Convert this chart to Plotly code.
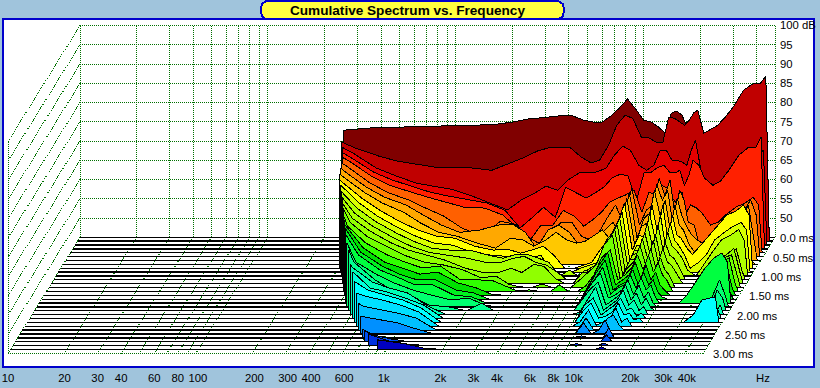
import numpy as np
import plotly.graph_objects as go

FREQ_HZ = [300,400,500,650,800,1000,1250,1600,2000,2400,2800,3200,3700,4200,4800,5400,6000,6700,7400,8200,
           9000,10000,11000,12000,13000,14000,15000,16000,17000,18000,19000,20000,21500,23000,25500,28000,
           31000,35000,39000,43000,46000,48000]

S00 = [73.1,73.6,73.6,73.8,73.9,74,74.1,74.3,74.9,75.7,76,76.2,76.6,76.5,75.4,74.9,74.9,76.5,78.5,80.9,78.5,75.4,74.9,73.6,72.1,77.2,77.8,76.7,73.4,70.8,68.9,67,67,67,67,67,67,67,67,67,45,45]
S01 = [69.2,67.1,65.8,65,64.2,64.2,64,63.4,65.3,66.8,68.4,69.2,69.3,69.2,66.8,65.3,66,69.9,75.1,77.7,76.9,72,71.8,70.7,70.5,77.2,76.9,75.9,75.1,76.4,78.3,79,73,73.8,75.1,77.2,80,84.2,85.8,86,87.9,45]
S02 = [68.9,65,63.1,61.1,60.3,59.5,58,55.9,54.1,56.9,58.5,60.3,59.2,61.9,63.7,63.7,64,65,68.3,70.7,69.6,65.7,64.4,65.7,69.6,69.6,67,67,66.5,65.7,69.6,72.2,63.9,61.3,59.2,60.3,62.9,66.5,68.3,68.3,69.6,45]
S03 = [68.8,64.9,62.9,61,59.7,58.7,57.9,56.9,55,50.4,53.2,55.8,53.2,61,59.5,58.2,59.5,61,63.4,64.4,63.9,57.6,64.9,64.9,66.2,66.7,64.9,64.7,65.4,61.5,64.1,68,66.7,63.4,61.5,62.6,65.4,69.3,71.2,71.2,74,45]
S04 = [69,64.9,62.5,60.7,59.4,58.1,56.8,56.6,54.8,51.4,48.3,52.2,52.2,56,54.5,51.9,53.5,55.5,58.1,59.2,60,61.3,55.5,60.7,60,62.5,61.8,59.2,57.4,60.7,55.5,57.4,56.6,55.3,52.2,52.9,55,56.9,57.9,59.4,57.4,45]
S05 = [68.7,64.3,61.7,59.7,57.6,55.5,52.4,50.3,54.2,53.4,50,48.5,50.6,53.9,53.9,50.3,49.3,51.3,55,58.4,53.9,62.8,53.2,57.1,58.4,65.4,60.9,64.8,55.8,62.3,59.7,53.9,53.2,47.7,49.8,51.3,53.4,56,56.5,59.7,55.8,45]
S06 = [68.4,64,61.4,59.4,56.8,54.2,52.3,52.9,54.2,54.4,52.3,48.2,52.9,54.2,52.3,49,47.7,50.3,52.9,54.9,51.6,62.7,50.8,56,57.5,64.8,60.6,63.2,54.9,61.2,56.8,54.2,51.6,50.3,49,50.3,52.3,53.9,55.5,59.4,50.3,45]
S07 = [68.2,63.7,60.9,58.5,55.7,53.3,52.3,50.5,49.2,51.8,51.3,49.7,51.3,53.3,51.3,50.5,51,52.6,53.9,51.3,51.3,62.2,50,54.9,55.9,64.2,57.8,61.7,53.9,60.4,55.2,53.9,50,48.1,48.7,50.5,52.3,54.4,55.9,55.2,46.1,45]
S08 = [45,63.2,60,56.9,54.9,53.3,52.8,50.7,49.7,49.9,48.9,49.7,50.7,48.4,45,45,45.8,46.5,49.7,52.3,55.4,61.9,49.7,53.6,52.8,61.4,54.3,61.4,52.3,58.8,53.6,52.8,50.2,48.6,51,53.3,55.9,58.8,59.8,61.4,58.8,45]
S09 = [45,62.9,59.5,56.4,54.3,52.5,52,50.1,49.4,49.1,48.1,48.6,49.4,45,45,45,46,46.8,47.5,50.7,54.6,60.5,48.1,52,51.2,60.5,53.3,59.8,52,57.9,53.3,52,49.4,46,47.5,49.4,53.3,55.3,56.9,57.9,55.9,45]
S10 = [45,62.6,59.2,56.1,54,52.2,51.7,51.7,50.4,49.6,50.6,50.6,49.6,48.5,45,46.5,45,46.5,47.8,51.7,55.6,60,47.8,51.7,51.7,58.9,52.2,58.2,51.7,56.3,52.7,51.7,49.6,46.5,45,48,51.1,54.5,55.6,57.1,54.3,45]
S11 = [45,62.3,58.9,55.8,53.7,52.1,51.4,50.6,49.5,49.5,50.6,51.1,49.5,48.8,46.9,45,45,47.5,46.9,50.6,55.3,59.2,47.5,51.4,52.1,57.3,51.4,56.6,50.6,54.7,51.4,50.6,48,45,45,45.4,47.7,50.1,51.4,53,47.5,45]
S12 = [45,62,58.6,55.5,53.7,52.4,51.1,49,47.9,47.9,49,47.9,50,49.5,46.4,45,45,47.9,47.9,51.1,56.3,58.9,47.2,51.1,51.6,56.8,51.1,56.3,50.6,54.2,50.6,49.8,47.2,45,45,45,49,51.6,52.4,54.2,48.5,45]
S13 = [45,62,58.1,55.3,53.2,51.6,50.9,49.6,47.5,48,45.9,45.2,45,45.9,45,45,45,47,49,50.9,56,58.7,47,50.1,51.7,56,50.9,55.3,50.1,52.7,49.6,48.3,45,45,45,45,48.3,51.6,52.7,53.5,48.3,45]
S14 = [45,62,57.6,54.5,52.7,51.1,51.6,48,48,47.7,46.2,45.1,45.4,45,45,46.7,45,45,46.4,49.3,53.7,55.8,48,49.3,51.1,54.5,50.6,54.5,50,52.6,49.3,48,45,45,45,45,48,51.1,52.6,53.7,47.5,45]
S15 = [45,63.3,57.3,53.6,52.1,50.5,51,48.2,46.9,45.3,45,45,45,45,45,45,45,45,45,49,52.9,56,47.7,49,50.3,53.6,49.5,52.9,49,51,47.7,46.4,45,45,45,45,47.7,49.5,51.6,52.9,46.9,45]
S16 = [45,45,57.2,53.6,51.5,50,50,47.4,46.6,45,45,45,45,45,45,45,45,45,45,48.7,52,55.2,47.4,48.7,49.5,52.6,48.7,52,48.7,50,46.9,45.6,45,45,45,45,46.9,48.7,50.5,52,46.9,45]
S17 = [45,45,57.5,53.6,51.8,49.7,49.7,47.1,46.6,45,45,45,45,45,45,45,45,45,45,48.4,51,54.3,47.3,48.9,49.7,52.3,48.9,51.5,48.4,49.7,46.6,45,45,45,45,47.1,50.2,54.1,56.7,58,55.6,45]
S18 = [45,45,56.6,53.3,51.2,49.4,48.1,46.8,47.3,45.5,45,45,45,45,45,45,45,45,45,48.1,51.2,53.8,47.3,48.1,49.4,52,48.1,50.7,47.3,48.9,46.1,45,45,45,45,45,45,45,47.3,52,48.1,45]
S19 = [45,45,57.7,53,50.4,49.1,46.5,46,45,47,45,45,45,45,45,45,45,45,45,47.8,50.4,52.5,46.5,47.8,49.1,51.7,47.8,49.6,46.5,48.3,46,45,45,45,45,45,45,45,45,50.4,48.3,45]
S20 = [45,45,57.5,53.4,51.9,50.6,47.5,45,45,45,45,45,45,45,45,45,45,45,45,45.6,48.8,52.2,46.1,47.4,48.8,51.4,47.4,48.8,46.1,47,45,45,45,45,45,45,45,45,45,45,47.5,45]
S21 = [45,45,45,52.9,51.9,50.3,48.5,45,45,45,45,45,45,45,45,45,45,45,45,45,48.5,50.3,45.9,47.2,48.5,50.3,47.2,47.7,45.6,46.4,45.1,45,45,45,45,45,45,45,45,45,47.2,45]
S22 = [45,45,45,53.4,52.1,50.8,48.7,45,45,45,45,45,45,45,45,45,45,45,45,45,47.7,50,46.1,46.6,47.7,50,46.9,47.4,45.6,46.1,45,45,45,45,45,45,45,46.9,50.8,51.3,51.6,45]
S23 = [45,45,45,52.8,51.8,50.5,48.7,45,45,45,45,45,45,45,45,45,45,45,45,45,46.1,49.2,45.3,46.1,47.1,49.7,46.1,47.1,45,45,45,45,45,45,45,45,45,45,45,45,45,45]
S24 = [45,45,45,51.2,50.4,49.4,48.1,45,45,45,45,45,45,45,45,45,45,45,45,45,45,48.1,45,45,48.1,48.9,46.3,45,45,45,45,45,45,45,45,45,45,45,45,45,45,45]
S25 = [45,45,45,49.6,48.8,48,46.5,45,45,45,45,45,45,45,45,45,45,45,45,45,45,47.8,45,46,48.6,45.2,45,45,45,45,45,45,45,45,45,45,45,45,45,45,45,45]
S26 = [45,45,45,45,45.5,45,45,45,45,45,45,45,45,45,45,45,45,45,45,45,45,45.5,45,45,45,47.6,45,45,45,45,45,45,45,45,45,45,45,45,45,45,45,45]
S27 = [45,45,45,45,46.8,45.7,45,45,45,45,45,45,45,45,45,45,45,45,45,45,45,45,45,45,45,46.8,45,45,45,45,45,45,45,45,45,45,45,45,45,45,45,45]
S28 = [45,45,45,45,47.8,46.2,45.4,45,45,45,45,45,45,45,45,45,45,45,45,45,45,45.5,45,45,45,45.7,45,45,45,45,45,45,45,45,45,45,45,45,45,45,45,45]
S29 = [45,45,45,45,45,47.2,46.5,45.3,45,45,45,45,45,45,45,45,45,45,45,45,45,45,45,45,45,45.7,45,45,45,45,45,45,45,45,45,45,45,45,45,45,45,45]

SLICES = [S00,S01,S02,S03,S04,S05,S06,S07,S08,S09,S10,S11,S12,S13,S14,S15,S16,S17,S18,S19,S20,S21,S22,S23,S24,S25,S26,S27,S28,S29]

EDGE_HZ = [251,255,263,271,279,284,292,297,306,319,329,343,353,368,379,395,412,429,447,472,498,526,549,579,611,645,681,727,786,894]
EDGE_DB = [72.8,70.7,70.4,70.1,69.8,69.3,69,68.4,67.8,67.5,67,66.4,66.1,65.7,65.1,64.6,63.5,62.7,61.6,60.8,58.1,57.1,55.7,53.6,52,49.6,47.3,47.8,48,47.5]

COLORS = ["#800000","#C00000","#E60000","#FF2000","#FF6000","#FF8000","#FFA800","#FFC800","#FFFF00","#D8FF00",
          "#B0FF00","#A8FF00","#90FF00","#70FF00","#30FF00","#00E000","#00F020","#00FF40","#00FF70","#00FF90",
          "#00FFB8","#00FFDC","#00FFFF","#00E0FF","#00C0FF","#0090FF","#0070FF","#0050F0","#0030E0","#0000C0"]

GRID_HZ = [10,20,30,40,50,60,70,80,90,100,200,300,400,500,600,700,800,900,1000,2000,3000,4000,5000,6000,7000,8000,9000,10000,20000,30000,40000,50000]
DB_TICKS = [50,55,60,65,70,75,80,85,90,95,100]
DB_LABELS = ["50","55","60","65","70","75","80","85","90","95","100 dB"]
HZ_TICKS = [10,20,30,40,60,80,100,200,300,400,600,1000,2000,3000,4000,6000,8000,10000,20000,30000,40000]
HZ_LABELS = ["10","20","30","40","60","80","100","200","300","400","600","1k","2k","3k","4k","6k","8k","10k","20k","30k","40k"]
TIME_MS = [0.0,0.5,1.0,1.5,2.0,2.5,3.0]
TIME_LABELS = ["0.0 ms","0.50 ms","1.00 ms","1.50 ms","2.00 ms","2.50 ms","3.00 ms"]

assert all(len(s)==len(FREQ_HZ) for s in SLICES), [len(s) for s in SLICES]

PX_PER_DECADE = 187.9
SKEW_X = 24/PX_PER_DECADE     # decades per ms
SKEW_Y = 10.05                # dB per ms
FLOOR = 45
STEP_MS = 0.1
F_MIN, F_MAX = 10, 50000
GRID = "#007000"
LABEL_FONT = dict(family="Liberation Sans", size=11.3, color="black")

def px(f, t): return np.log10(np.asarray(f, float)) - SKEW_X*np.asarray(t, float)
def py(d, t): return np.asarray(d, float) - SKEW_Y*np.asarray(t, float)

fig = go.Figure()
def dotted(xs, ys, color=GRID):
    fig.add_trace(go.Scatter(x=xs, y=ys, mode="lines", hoverinfo="skip", showlegend=False,
                             line=dict(color=color, width=1, dash="1px,1px")))

# back wall
for d in DB_TICKS:
    dotted([px(F_MIN,0), px(F_MAX,0)], [d,d])
for f in GRID_HZ:
    dotted([px(f,0), px(f,0)], [FLOOR, 100])
# left wall
for d in [FLOOR]+DB_TICKS:
    dotted([px(F_MIN,0), px(F_MIN,3)], [py(d,0), py(d,3)])
dotted([px(F_MIN,3), px(F_MIN,3)], [py(FLOOR,3), py(100,3)])
# floor
for f in GRID_HZ:
    dotted([px(f,0), px(f,3)], [py(FLOOR,0), py(FLOOR,3)])
dotted([px(F_MIN,3), px(F_MAX,3)], [py(FLOOR,3), py(FLOOR,3)])

# slices, back to front
for k, vals in enumerate(SLICES):
    t = k*STEP_MS
    fig.add_trace(go.Scatter(x=[px(F_MIN,t), px(F_MAX,t)], y=[py(FLOOR,t)]*2, mode="lines",
                             hoverinfo="skip", showlegend=False, line=dict(color="black", width=1.3)))
    fs = [EDGE_HZ[k], EDGE_HZ[k]] + [f for f in FREQ_HZ if f > EDGE_HZ[k]] + [EDGE_HZ[k]]
    ds = [FLOOR, EDGE_DB[k]] + [v for f, v in zip(FREQ_HZ, vals) if f > EDGE_HZ[k]] + [FLOOR]
    fig.add_trace(go.Scatter(x=px(fs,t), y=py(ds,t), mode="lines", fill="toself", fillcolor=COLORS[k],
                             hoverinfo="skip", showlegend=False, line=dict(color="black", width=1)))

W, H = 820, 388
L, R, T, B = 5, 43, 20, 34
x0 = 1 + (L-80)/PX_PER_DECADE
x1 = 1 + (W-R-80)/PX_PER_DECADE
y1 = 100 + (25.5-T)/3.85
y0 = 100 + (25.5-(H-B))/3.85

def xp(p): return (p-L)/(W-L-R)
def yp(p): return 1-(p-T)/(H-T-B)

HZ_POS = 1 + (763-80)/PX_PER_DECADE
shapes = [
    dict(type="rect", xref="paper", yref="paper", x0=xp(3), x1=xp(814), y0=yp(18.5), y1=yp(366.5),
         fillcolor="white", line=dict(color="#0000CC", width=2), layer="below"),
    dict(type="path", xref="paper", yref="paper", layer="above",
         path=" ".join(["M %.5f %.5f" % (xp(266), yp(1))] + ["L %.5f %.5f" % (xp(a), yp(b)) for a, b in
              [(558,1),(563,4),(564,10),(563,16),(558,19.5),(266,19.5),(262,16),(260.5,10),(262,4)]] + ["Z"]),
         fillcolor="#FFFF40", line=dict(color="#0000CC", width=2)),
]

annos = [dict(text="<b>Cumulative Spectrum vs. Frequency</b>", xref="paper", yref="paper",
              x=xp(407.5), y=yp(10.5), showarrow=False, xanchor="center", yanchor="middle",
              font=dict(family="Liberation Sans", size=13.6, color="black"))]
for i, (t, lab) in enumerate(zip(TIME_MS, TIME_LABELS)):
    annos.append(dict(text=lab, xref="x", yref="y", x=float(px(F_MAX, t)), y=float(py(FLOOR, t)),
                      showarrow=False, xanchor="left", yanchor="middle", xshift=3 if i == 0 else 8,
                      yshift=-1, font=LABEL_FONT))

tick_x = [float(px(f,3)) + (2/PX_PER_DECADE if len(s) == 3 else 0) for f, s in zip(HZ_TICKS, HZ_LABELS)]

fig.update_layout(
    width=W, height=H, margin=dict(l=L, r=R, t=T, b=B, pad=0, autoexpand=False),
    paper_bgcolor="#A0C4DC", plot_bgcolor="rgba(0,0,0,0)", showlegend=False, shapes=shapes, annotations=annos,
    xaxis=dict(range=[x0, x1], showgrid=False, zeroline=False, showline=False,
               tickmode="array", tickvals=tick_x+[HZ_POS], ticktext=HZ_LABELS+["Hz"],
               ticks="outside", ticklen=13, tickcolor="rgba(0,0,0,0)", tickangle=0, tickfont=LABEL_FONT),
    yaxis=dict(range=[y0, y1], side="right", showgrid=False, zeroline=False, showline=False,
               tickmode="array", tickvals=DB_TICKS, ticktext=DB_LABELS, ticks="", ticklabelstandoff=2,
               tickfont=LABEL_FONT),
)

POST = """
document.documentElement.style.margin='0';document.body.style.margin='0';document.body.style.overflow='hidden';
document.querySelectorAll('.scatterlayer path, .shapelayer path').forEach(function(p){p.style.shapeRendering='crispEdges';});
"""
fig.write_html("out.html", post_script=POST, config={"displayModeBar": False})
